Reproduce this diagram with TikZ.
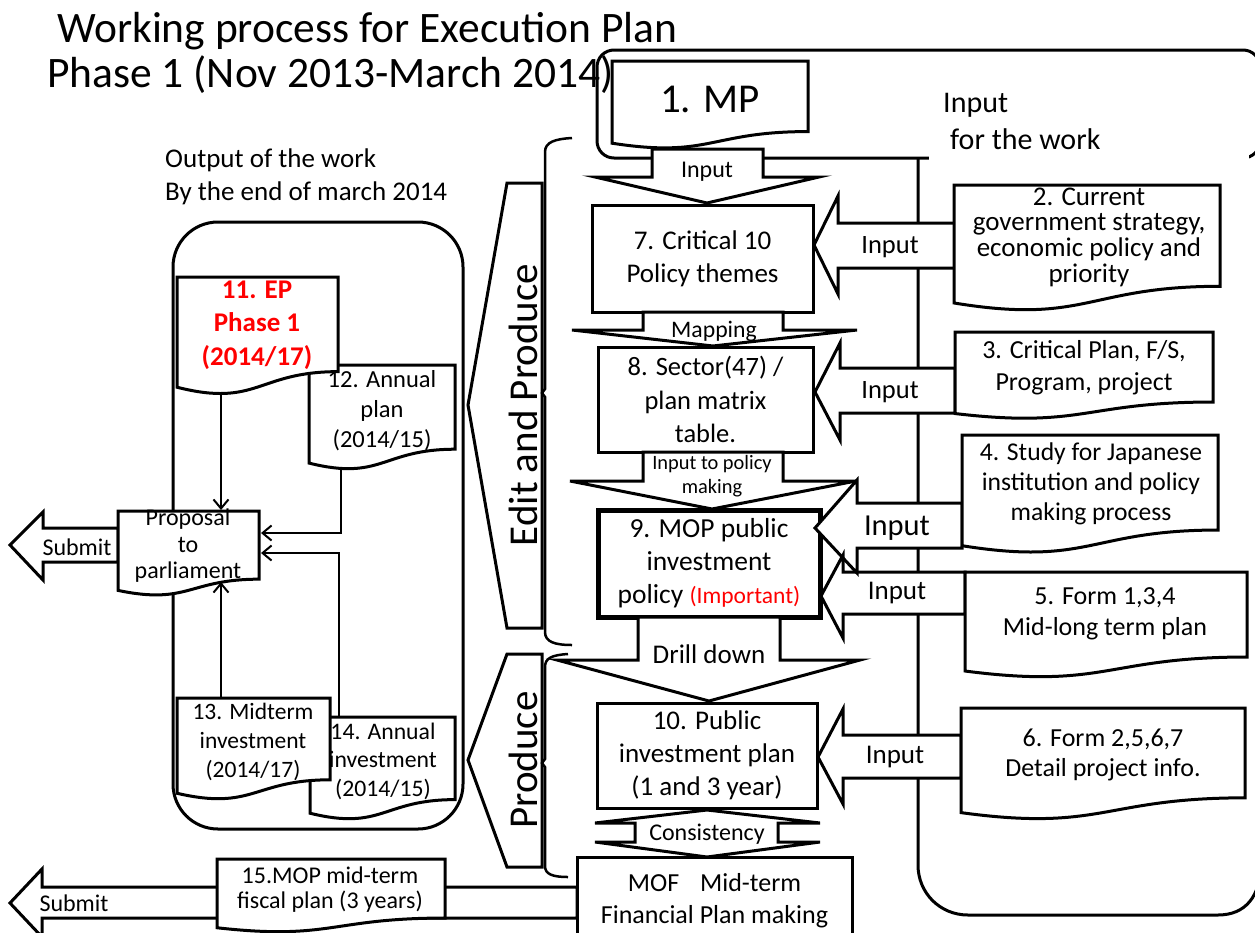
\documentclass[tikz,border=0pt]{standalone}
\usepackage{fontspec}
\setmainfont{Carlito}
\usetikzlibrary{arrows.meta}

\newcommand\fsz[2]{\fontsize{#1}{#2}\selectfont}

% flowchart "document" outline: x, y (top left), width, height
\newcommand\docoutline[5][]{%
  \pgfmathsetmacro\docR{#2+#4}%
  \pgfmathsetmacro\docM{#2+#4/2}%
  \pgfmathsetmacro\docYr{#3+0.802*#5}%
  \pgfmathsetmacro\docYl{#3+0.934*#5}%
  \pgfmathsetmacro\docYc{#3+1.1075*#5}%
  \draw[outl,fill=white,#1] (#2,#3) -- (\docR,#3) -- (\docR,\docYr)
     .. controls (\docM,\docYr) and (\docM,\docYc) .. (#2,\docYl) -- cycle;}

% block arrow pointing left: tip x, tip y, head x, head top, head bottom, shaft top, shaft bottom, tail x
\newcommand\leftblk[9][]{%
  \path[#1] (#2,#3) -- (#4,#5) -- (#4,#7) -- (#9,#7) -- (#9,#8) -- (#4,#8) -- (#4,#6) -- cycle;}

\begin{document}
\begin{tikzpicture}[x=1pt,y=-1pt,
  outl/.style={draw=black,line width=3pt,line join=miter},
  blk/.style={outl,fill=white},
  conn/.style={line width=2pt},
  barb/.style={-{Straight Barb[length=9pt,width=15pt,line width=2pt]}},
  txt/.style={inner sep=0pt,align=center},
  boxnode/.style={outl,fill=white,inner sep=0pt,align=center},
]
\useasboundingbox (0,0) rectangle (1255,932);
\clip (0,0) rectangle (1255,932);

% ---------- titles ----------
\node[txt,anchor=base west,font=\fsz{43.5}{50}] (title) at (57,42) {Working process for Execution Plan};
\node[txt,anchor=base west,font=\fsz{43.5}{50}] (phase) at (47,87) {Phase 1 (Nov 2013-March 2014)};

% ---------- input frame ----------
\draw[outl,rounded corners=17pt] (597,50) rectangle (1260,158);
\draw[outl] (918,158) -- (918,865) .. controls (918,893) and (940,915) .. (968,915)
  -- (1218,915) .. controls (1245,915) and (1261,897) .. (1261,862) -- (1261,158);
\fill[white] (929,64) rectangle (1249,160);
\node[txt,anchor=west,align=left,font=\fsz{30}{37}] (inwork) at (943,121) {Input\\\hspace*{7pt}for the work};

% ---------- 1. MP ----------
\docoutline{612}{61}{196}{88}
\node[txt,font=\fsz{41}{48}] (mp) at (710,99) {1. MP};

% ---------- central column ----------
\draw[blk] (652,149) -- (763,149) -- (763,177) -- (819,177) -- (707,203) -- (595,177) -- (652,177) -- cycle;
\node[txt,font=\fsz{24}{28}] (lbinput) at (707,172) {Input};

\node[boxnode,minimum width=221pt,minimum height=107pt,font=\fsz{27}{33}] (b7) at (702.5,258.5) {7. Critical 10\\Policy themes};

\draw[blk] (643,312) -- (783,312) -- (783,330) -- (857,330) -- (713,346) -- (572,330) -- (643,330) -- cycle;
\node[txt,font=\fsz{23.7}{28}] (lbmap) at (714,331) {Mapping};

\node[boxnode,minimum width=215pt,minimum height=105pt,font=\fsz{26.5}{33.5}] (b8) at (705.5,399.5) {8. Sector(47) /\\plan matrix\\table.};

\draw[blk] (643,452) -- (783,452) -- (783,481) -- (856,481) -- (712,509) -- (570,481) -- (643,481) -- cycle;
\node[txt,font=\fsz{20.4}{24.5}] (lbpol) at (712,476) {Input to policy\\making};

\node[boxnode,line width=5pt,minimum width=222pt,minimum height=107pt,font=\fsz{27.5}{33}] (b9) at (709,563.5) {9. MOP public\\investment\\policy {\color{red}\fsz{23.5}{33}(Important)}};

\draw[blk] (638,617) -- (780,617) -- (780,660) -- (860,660) -- (709,701) -- (557,660) -- (638,660) -- cycle;
\node[txt,font=\fsz{27}{32}] (lbdrill) at (709,654) {Drill down};

\node[boxnode,minimum width=220pt,minimum height=105pt,font=\fsz{27}{33}] (b10) at (707,755.5) {10. Public\\investment plan\\(1 and 3 year)};

\draw[blk] (707,810) -- (820,823) -- (778,823) -- (778,842) -- (820,842) -- (707,857) -- (595,842) -- (635,842) -- (635,823) -- (595,823) -- cycle;
\node[txt,font=\fsz{24}{28}] (lbcons) at (707,834) {Consistency};

\node[boxnode,minimum width=275pt,minimum height=88pt,font=\fsz{26}{32}] (mof) at (714.5,901) {MOF\hspace{0.8em}Mid-term\\Financial Plan making};

% ---------- edit / produce markers ----------
\draw[blk] (542,183) -- (507,183) -- (468,405) -- (507,628) -- (542,628) -- cycle;
\node[txt,rotate=90,font=\fsz{41}{48}] (edit) at (523,405) {Edit and Produce};
\draw[blk] (542,654) -- (507,654) -- (468,760) -- (507,867) -- (542,867) -- cycle;
\node[txt,rotate=90,font=\fsz{41}{48}] (produce) at (523,760) {Produce};

\draw[line width=2.5pt] (572,138) .. controls (555,139) and (545,142) .. (545,152) -- (545,389) -- (542,393) -- (545,397)
  -- (545,632) .. controls (545,642) and (555,645) .. (572,645);
\draw[line width=2.5pt] (568,654) .. controls (552,655) and (545,658) .. (545,667) -- (545,759) -- (542,763) -- (545,767)
  -- (545,866) .. controls (545,874) and (552,877) .. (568,877);

% ---------- input arrows from the right ----------
\leftblk[fill=white]{814}{245}{838}{196}{294}{223}{268}{955}
\leftblk[fill=white]{815}{392}{840}{343}{440}{368}{413}{955}
\leftblk[fill=white]{815}{528}{857}{480}{573}{503}{548}{962}
\leftblk[fill=white]{821}{596}{843}{555}{638}{572}{614}{965}
\leftblk[fill=white]{818}{757}{843}{709}{804}{735}{778}{961}
\leftblk[outl]{814}{245}{838}{196}{294}{223}{268}{955}
\leftblk[outl]{815}{392}{840}{343}{440}{368}{413}{955}
\leftblk[outl]{815}{528}{857}{480}{573}{503}{548}{962}
\leftblk[outl]{821}{596}{843}{555}{638}{572}{614}{965}
\leftblk[outl]{818}{757}{843}{709}{804}{735}{778}{961}
\node[txt,font=\fsz{26.5}{30}] (in2) at (890,247) {Input};
\node[txt,font=\fsz{26.5}{30}] (in3) at (890,392) {Input};
\node[txt,font=\fsz{30.5}{34}] (in4) at (897,528) {Input};
\node[txt,font=\fsz{27}{30}] (in5) at (897,593) {Input};
\node[txt,font=\fsz{27}{30}] (in6) at (895,757) {Input};

% ---------- input documents ----------
\docoutline{954}{185}{266}{126.3}
\node[txt,font=\fsz{27}{25.7}] (b2) at (1089,237) {2. Current\\government strategy,\\economic policy and\\priority};
\docoutline{955}{332}{258}{87.3}
\node[txt,font=\fsz{26}{32}] (b3) at (1084,368) {3. Critical Plan, F/S,\\Program, project};
\docoutline{962}{435}{256}{118.5}
\node[txt,font=\fsz{25.6}{30}] (b4) at (1091,484) {4. Study for Japanese\\institution and policy\\making process};
\docoutline{965}{572}{282}{106}
\node[txt,font=\fsz{26}{31}] (b5) at (1105,614) {5. Form 1,3,4\\Mid-long term plan};
\docoutline{961}{708}{284}{112}
\node[txt,font=\fsz{26}{30}] (b6) at (1103,755) {6. Form 2,5,6,7\\Detail project info.};

% ---------- output panel ----------
\node[txt,anchor=west,align=left,font=\fsz{27}{33}] (outwork) at (165,177) {Output of the work\\By the end of march 2014};
\draw[outl,rounded corners=45pt] (173,222) rectangle (463,829);

\docoutline{309}{365}{146}{105}
\node[txt,font=\fsz{24.5}{30}] (b12) at (382,411) {12. Annual\\plan\\(2014/15)};
\docoutline{177}{277}{161}{118}
\node[txt,text=red,font=\bfseries\fsz{27}{33.5}] (b11) at (257,325) {11. EP\\Phase 1\\(2014/17)};
\docoutline{310}{717}{145}{103}
\node[txt,font=\fsz{23.7}{28.5}] (b14) at (383,761) {14. Annual\\investment\\(2014/15)};
\docoutline{177}{698}{153}{102}
\node[txt,font=\fsz{23.5}{29}] (b13) at (253,742) {13. Midterm\\investment\\(2014/17)};

% submit to parliament
\leftblk[blk]{10}{545}{43}{512}{580}{528}{562}{118}
\node[txt,font=\fsz{24}{28}] (submit1) at (77,547) {Submit};
\docoutline{118}{511}{141}{85}
\node[txt,font=\fsz{24}{26.5}] (prop) at (188,546) {Proposal\\to\\parliament};

% connectors into the proposal
\coordinate (b11-out) at (221,393);
\coordinate (prop-top) at (221,510);
\coordinate (b12-out) at (341,469);
\coordinate (prop-r1) at (261,533);
\coordinate (b14-out) at (339,717);
\coordinate (prop-r2) at (261,553);
\coordinate (b13-out) at (221,698);
\coordinate (prop-bot) at (221,582);
\draw[conn,barb] (b11-out) -- (prop-top);
\draw[conn,barb] (b12-out) |- (prop-r1);
\draw[conn,barb] (b14-out) |- (prop-r2);
\draw[conn,barb] (b13-out) -- (prop-bot);

% ---------- mid-term fiscal plan ----------
\leftblk[blk]{10}{903}{42}{869}{937}{887}{918}{577}
\node[txt,font=\fsz{24}{28}] (submit2) at (74,903) {Submit};
\docoutline{217}{859}{228}{73.6}
\node[txt,font=\fsz{24}{25}] (b15) at (330,890) {15.MOP mid-term\\fiscal plan (3 years)};

\end{tikzpicture}
\end{document}
